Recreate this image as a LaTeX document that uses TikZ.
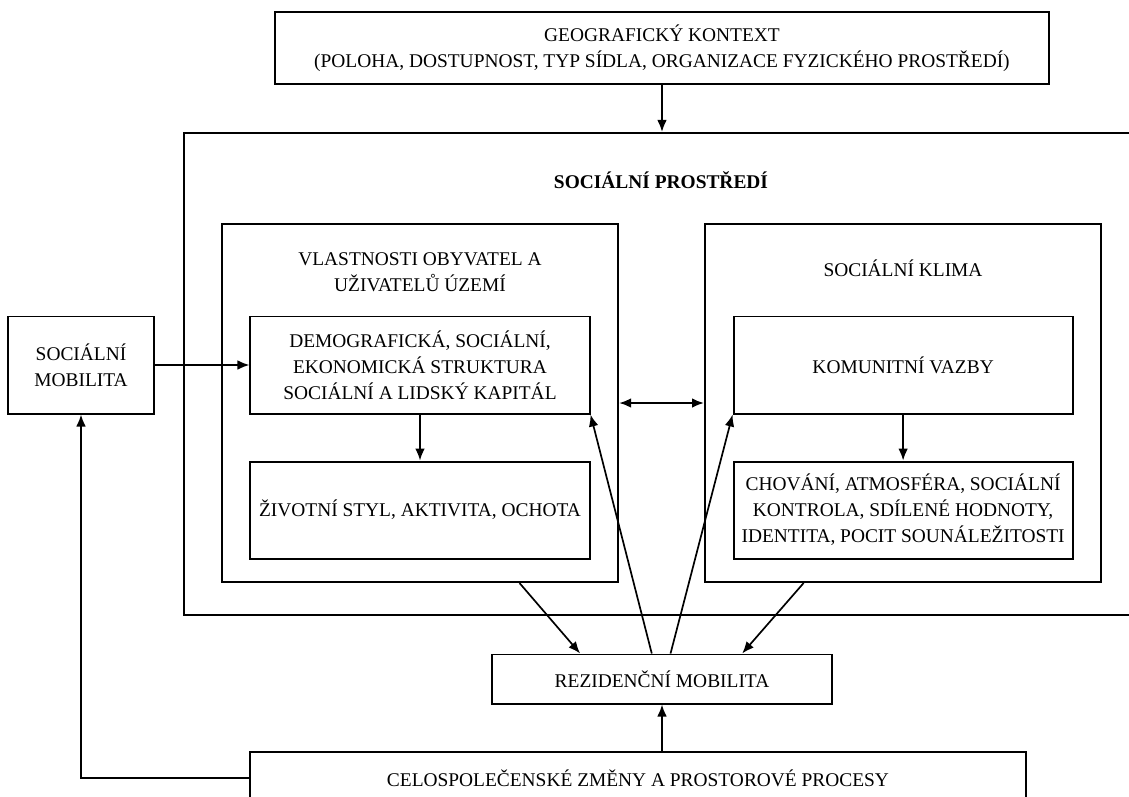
\documentclass[tikz,border=0pt]{standalone}
\usepackage{fontspec}
\setmainfont{Liberation Serif}
\usetikzlibrary{positioning,arrows.meta,calc}
\newcommand{\fsz}{\fontsize{13.8}{18.5}\selectfont}
\tikzstyle{B} = [rectangle,
			draw, line width=1.4pt,
			text centered, align=center,
			inner sep=0pt, font=\fsz]
\tikzstyle{S} = [B,
			minimum width=8.475cm, minimum height=2.425cm]
\tikzstyle{T} = [align=center, font=\fsz]
\tikzstyle{L} = [draw, line width=1.2pt, -{Latex[length=3mm,width=2.4mm]}]

\begin{document}
\begin{tikzpicture}[x=0.025cm, y=-0.025cm]

\useasboundingbox (0,0) rectangle (1129,796);
\clip (0,0) rectangle (1129,796);

\node [B, minimum width=19.35cm, minimum height=1.8cm]
(geo) at (662,48)
	{GEOGRAFICKÝ KONTEXT\\(POLOHA, DOSTUPNOST, TYP SÍDLA, ORGANIZACE FYZICKÉHO PROSTŘEDÍ)};

\node [B, minimum width=23.9cm, minimum height=12.05cm]
(soc) at (662,374)
	{};

\node [T, font=\fsz\bfseries]
(socT) at (661,180)
	{SOCIÁLNÍ PROSTŘEDÍ};

\node [B, minimum width=9.9cm, minimum height=8.95cm]
(vlast) at (420,403)
	{};

\node [B, right of =vlast, node distance =12.075cm, minimum width=9.9cm, minimum height=8.95cm]
(klima)
	{};

\node [T]
(vlastT) at (420,272)
	{VLASTNOSTI OBYVATEL A\\UŽIVATELŮ ÚZEMÍ};

\node [T]
(klimaT) at (903,268)
	{SOCIÁLNÍ KLIMA};

\node [S]
(demo) at (420,365)
	{DEMOGRAFICKÁ, SOCIÁLNÍ,\\EKONOMICKÁ STRUKTURA\\SOCIÁLNÍ A LIDSKÝ KAPITÁL};

\node [S, below of =demo, node distance =3.625cm]
(zivot)
	{ŽIVOTNÍ STYL, AKTIVITA, OCHOTA};

\node [S, right of =demo, node distance =12.075cm]
(komun)
	{KOMUNITNÍ VAZBY};

\node [S, below of =komun, node distance =3.625cm]
(chov)
	{CHOVÁNÍ, ATMOSFÉRA, SOCIÁLNÍ\\KONTROLA, SDÍLENÉ HODNOTY,\\IDENTITA, POCIT SOUNÁLEŽITOSTI};

\node [B, minimum width=3.625cm, minimum height=2.425cm]
(socmob) at (81,365)
	{SOCIÁLNÍ\\MOBILITA};

\node [B, minimum width=8.475cm, minimum height=1.225cm]
(rez) at (662,679)
	{REZIDENČNÍ MOBILITA};

\node [B, minimum width=19.375cm, minimum height=1.3cm]
(celo) at (638,778)
	{CELOSPOLEČENSKÉ ZMĚNY A PROSTOROVÉ PROCESY};

\path[L] (geo) -- (soc);

\path[L] (socmob) -- (demo);

\path[L, {Latex[length=3mm,width=2.4mm]}-{Latex[length=3mm,width=2.4mm]}, line width=1.5pt] (vlast) -- (klima);

\path[L] (demo) -- (zivot);

\path[L] (komun) -- (chov);

\path[L] (rez.south |- celo.north) -- (rez.south);

\path[L] (celo.west) -| (socmob);

\path[L] ($(vlast.south west)!0.75!(vlast.south east)$) -- ($(rez.north west)!0.26!(rez.north east)$);

\path[L] ($(klima.south west)!0.25!(klima.south east)$) -- ($(rez.north west)!0.735!(rez.north east)$);

\path[L] ($(rez.north west)!0.47!(rez.north east)$) -- (demo.south east);

\path[L] ($(rez.north west)!0.525!(rez.north east)$) -- (komun.south west);

\end{tikzpicture}
\end{document}
